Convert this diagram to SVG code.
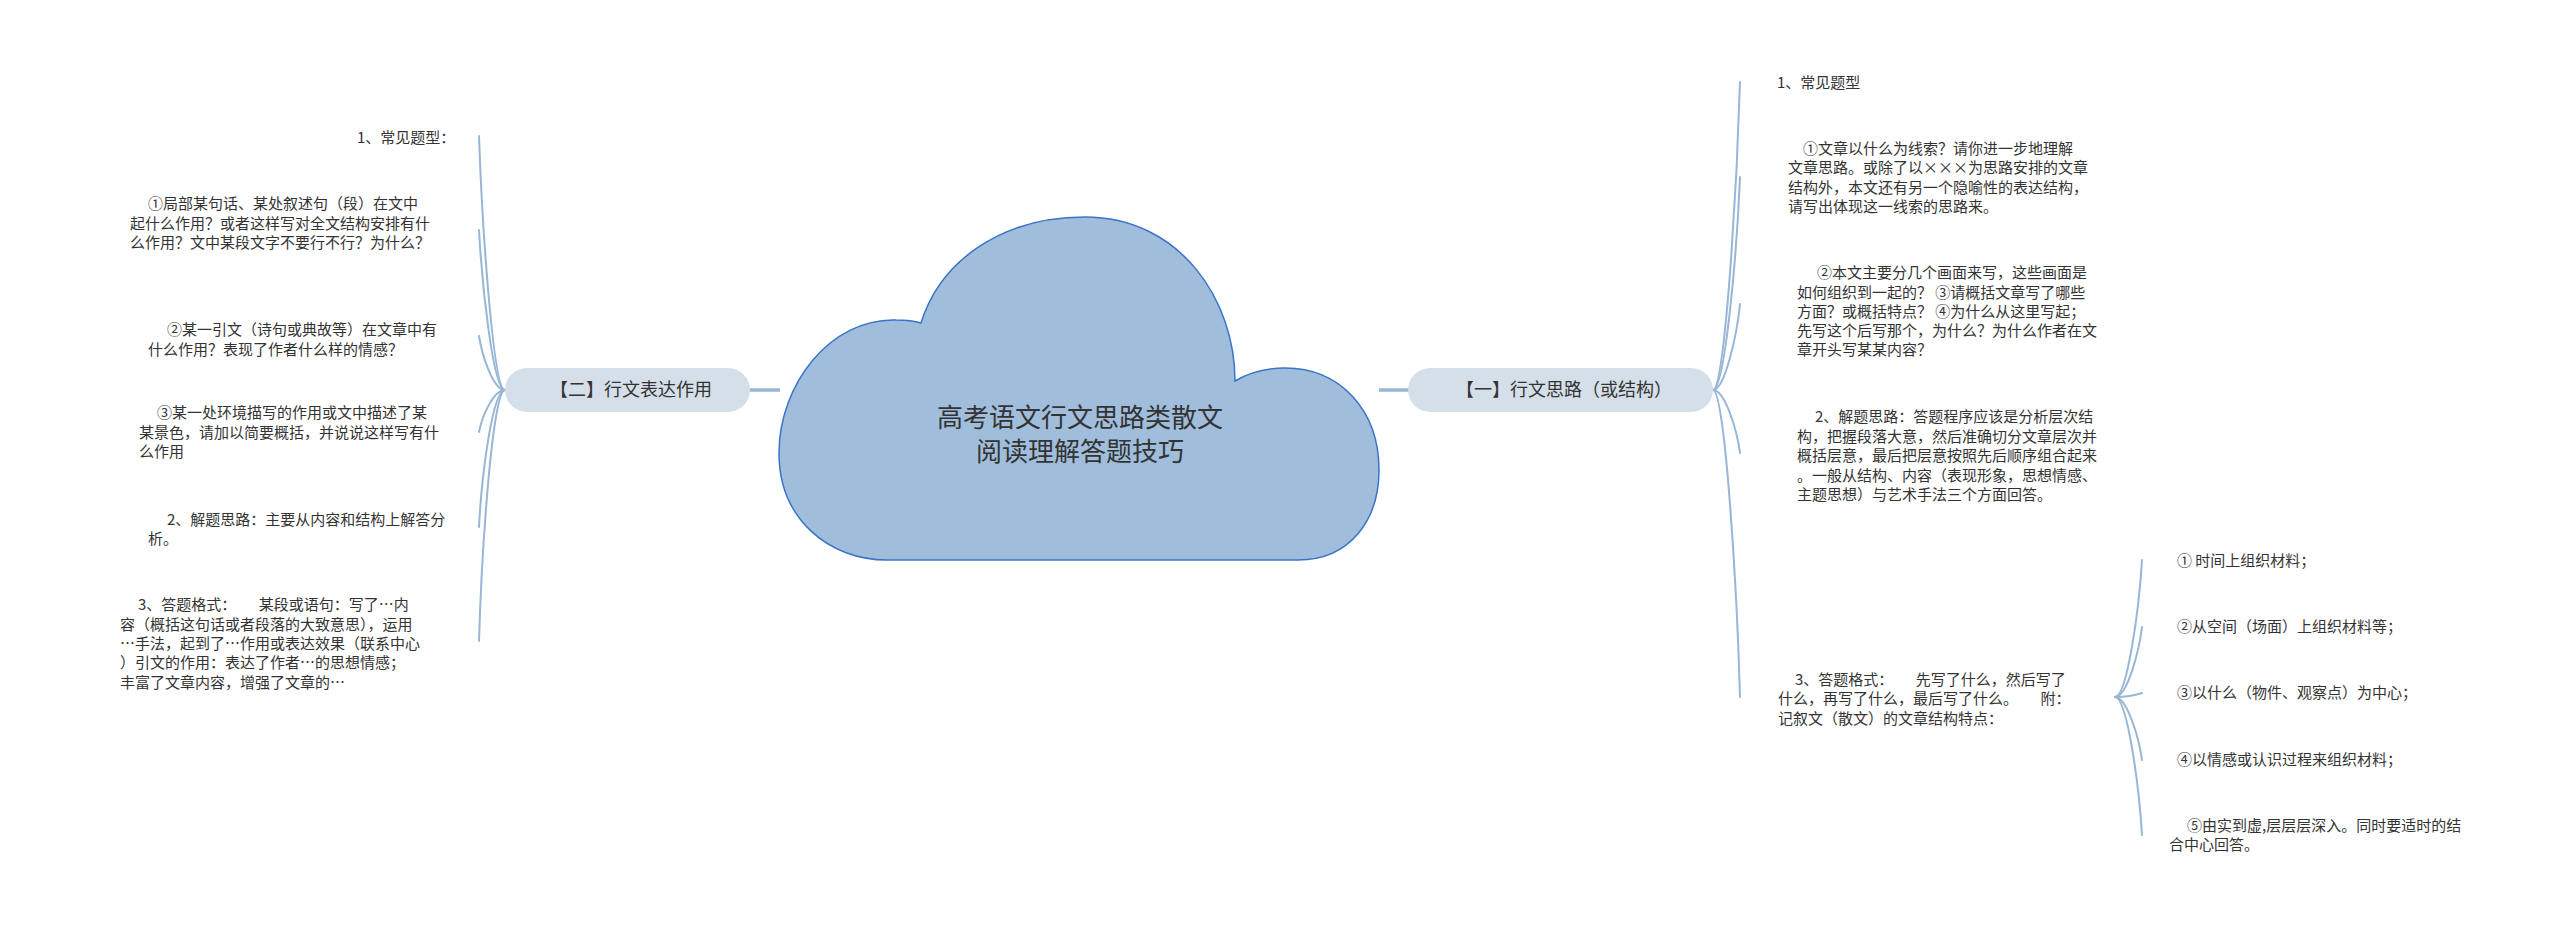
<svg xmlns="http://www.w3.org/2000/svg" width="2560" height="927" viewBox="0 0 2560 927">
<style>
text{font-family:"Microsoft YaHei","Noto Sans CJK SC","Noto Sans",sans-serif;fill:#333333;}
.leaf{font-size:15px;}
.pilltxt{font-size:18px;text-anchor:middle;}
.title{font-size:26px;text-anchor:middle;}
.pill{fill:#D5DFE9;}
.conn{fill:none;stroke:#98B6D6;stroke-width:2;stroke-linecap:round;}
.main{fill:none;stroke:#98B6D6;stroke-width:3.5;}
</style>
<rect width="2560" height="927" fill="#ffffff"/>
<g id="connectors">
<line class="main" x1="750" y1="390" x2="780" y2="390"/>
<line class="main" x1="1379" y1="390" x2="1409" y2="390"/>
<path class="conn" d="M505 390 C493 390 482 224 479 136"/>
<path class="conn" d="M505 390 C493 390 482 285 479 230"/>
<path class="conn" d="M505 390 C493 390 482 355 479 336"/>
<path class="conn" d="M505 390 C493 390 482 417 479 432"/>
<path class="conn" d="M505 390 C493 390 482 470 479 527"/>
<path class="conn" d="M505 390 C493 390 482 540 479 641"/>
<path class="conn" d="M1713 390 C1725 390 1737 185 1740 82"/>
<path class="conn" d="M1713 390 C1725 390 1737 251 1740 177"/>
<path class="conn" d="M1713 390 C1725 390 1737 334 1740 304"/>
<path class="conn" d="M1713 390 C1725 390 1737 430 1740 453"/>
<path class="conn" d="M1713 390 C1725 390 1737 588 1740 697"/>
<path class="conn" d="M2115 697 C2127 697 2139 610 2142 560"/>
<path class="conn" d="M2115 697 C2127 697 2139 652 2142 627"/>
<path class="conn" d="M2115 697 C2127 697 2139 694 2142 693"/>
<path class="conn" d="M2115 697 C2127 697 2139 738 2142 760"/>
<path class="conn" d="M2115 697 C2127 697 2139 785 2142 835"/>
</g>
<g id="root">
<path d="M887 560 C830 560 779 520 779 453 C779 385 830 318 896 320 Q912 320 921 323 C940 262 1000 217 1085 217 C1180 217 1235 300 1235 381 C1250 372 1268 368 1285 368 C1340 368 1379 410 1379 470 C1379 520 1350 560 1298 560 Z" fill="#A0BEDB" stroke="#3A74C8" stroke-width="1.5"/>
<text class="title" x="1080" y="427">高考语文行文思路类散文</text>
<text class="title" x="1080" y="461">阅读理解答题技巧</text>
</g>
<g id="branch-left">
<rect class="pill" x="505" y="368" width="245" height="44" rx="22"/>
<text class="pilltxt" x="631" y="396">【二】行文表达作用</text>
</g>
<g id="branch-right">
<rect class="pill" x="1408" y="368" width="305" height="44" rx="22"/>
<text class="pilltxt" x="1564" y="396">【一】行文思路（或结构）</text>
</g>
<g id="l1"><text class="leaf" x="357" y="143">1、常见题型：</text></g>
<g id="l2">
<text class="leaf" x="148" y="209">①局部某句话、某处叙述句（段）在文中</text>
<text class="leaf" x="130" y="229">起什么作用？或者这样写对全文结构安排有什</text>
<text class="leaf" x="130" y="248">么作用？文中某段文字不要行不行？为什么？</text>
</g>
<g id="l3">
<text class="leaf" x="167" y="335">②某一引文（诗句或典故等）在文章中有</text>
<text class="leaf" x="148" y="355">什么作用？表现了作者什么样的情感？</text>
</g>
<g id="l4">
<text class="leaf" x="157" y="418">③某一处环境描写的作用或文中描述了某</text>
<text class="leaf" x="139" y="438">某景色，请加以简要概括，并说说这样写有什</text>
<text class="leaf" x="139" y="457">么作用</text>
</g>
<g id="l5">
<text class="leaf" x="167" y="525">2、解题思路：主要从内容和结构上解答分</text>
<text class="leaf" x="148" y="544">析。</text>
</g>
<g id="l6">
<text class="leaf" x="138" y="610">3、答题格式：　　某段或语句：写了…内</text>
<text class="leaf" x="120" y="630">容（概括这句话或者段落的大致意思），运用</text>
<text class="leaf" x="120" y="649">…手法，起到了…作用或表达效果（联系中心</text>
<text class="leaf" x="120" y="668">）引文的作用：表达了作者…的思想情感；</text>
<text class="leaf" x="120" y="688">丰富了文章内容，增强了文章的…</text>
</g>
<g id="r1"><text class="leaf" x="1777" y="88">1、常见题型</text></g>
<g id="r2">
<text class="leaf" x="1803" y="154">①文章以什么为线索？请你进一步地理解</text>
<text class="leaf" x="1788" y="173">文章思路。或除了以×××为思路安排的文章</text>
<text class="leaf" x="1788" y="193">结构外，本文还有另一个隐喻性的表达结构，</text>
<text class="leaf" x="1788" y="212">请写出体现这一线索的思路来。</text>
</g>
<g id="r3">
<text class="leaf" x="1817" y="278">②本文主要分几个画面来写，这些画面是</text>
<text class="leaf" x="1797" y="298">如何组织到一起的？ ③请概括文章写了哪些</text>
<text class="leaf" x="1797" y="317">方面？或概括特点？ ④为什么从这里写起；</text>
<text class="leaf" x="1797" y="336">先写这个后写那个，为什么？为什么作者在文</text>
<text class="leaf" x="1797" y="355">章开头写某某内容？</text>
</g>
<g id="r4">
<text class="leaf" x="1815" y="422">2、解题思路：答题程序应该是分析层次结</text>
<text class="leaf" x="1797" y="442">构，把握段落大意，然后准确切分文章层次并</text>
<text class="leaf" x="1797" y="461">概括层意，最后把层意按照先后顺序组合起来</text>
<text class="leaf" x="1797" y="481">。一般从结构、内容（表现形象，思想情感、</text>
<text class="leaf" x="1797" y="500">主题思想）与艺术手法三个方面回答。</text>
</g>
<g id="r5">
<text class="leaf" x="1795" y="685">3、答题格式：　　先写了什么，然后写了</text>
<text class="leaf" x="1778" y="704">什么，再写了什么，最后写了什么。　　附：</text>
<text class="leaf" x="1778" y="724">记叙文（散文）的文章结构特点：</text>
</g>
<g id="s1"><text class="leaf" x="2177" y="566">① 时间上组织材料；</text></g>
<g id="s2"><text class="leaf" x="2177" y="632">②从空间（场面）上组织材料等；</text></g>
<g id="s3"><text class="leaf" x="2177" y="698">③以什么（物件、观察点）为中心；</text></g>
<g id="s4"><text class="leaf" x="2177" y="765">④以情感或认识过程来组织材料；</text></g>
<g id="s5">
<text class="leaf" x="2187" y="831">⑤由实到虚,层层层深入。同时要适时的结</text>
<text class="leaf" x="2169" y="850">合中心回答。</text>
</g>
</svg>
